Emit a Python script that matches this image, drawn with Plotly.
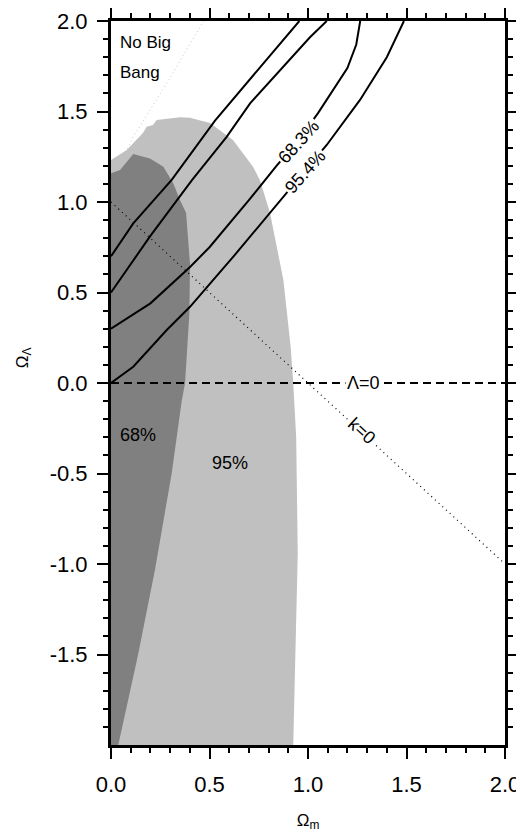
import plotly.graph_objects as go

# ---- data ----
light_x = [0, 0, 0.08, 0.162, 0.181, 0.213, 0.232, 0.35, 0.40, 0.503, 0.619, 0.721, 0.756, 0.807, 0.875, 0.912, 0.925, 0.94, 0.948, 0.934, 0.925]
light_y = [-2, 1.232, 1.287, 1.381, 1.416, 1.425, 1.453, 1.468, 1.466, 1.436, 1.343, 1.195, 1.12, 0.94, 0.569, 0.20, 0.0, -0.3, -0.94, -1.678, -2]

dark_x = [0, 0, 0.046, 0.113, 0.198, 0.266, 0.316, 0.35, 0.381, 0.401, 0.398, 0.376, 0.359, 0.308, 0.223, 0.139, 0.037]
dark_y = [-2, 1.159, 1.177, 1.265, 1.241, 1.195, 1.103, 1.011, 0.94, 0.66, 0.387, 0.0, -0.1, -0.5, -1.033, -1.493, -2]

c95_left_x = [0, 0.113, 0.308, 0.528, 0.956]
c95_left_y = [0.70, 0.882, 1.122, 1.45, 2.0]
c68_left_x = [0, 0.198, 0.41, 0.587, 0.706, 1.01, 1.095]
c68_left_y = [0.50, 0.81, 1.12, 1.36, 1.545, 1.91, 2.0]
c68_right_x = [0, 0.2, 0.4, 0.5, 0.7, 0.84, 0.95, 1.05, 1.2, 1.245, 1.265]
c68_right_y = [0.30, 0.44, 0.64, 0.75, 1.01, 1.20, 1.34, 1.49, 1.74, 1.87, 2.0]
c95_right_x = [0, 0.113, 0.283, 0.401, 0.621, 0.875, 0.985, 1.095, 1.264, 1.4, 1.487]
c95_right_y = [0.0, 0.09, 0.293, 0.421, 0.698, 1.03, 1.17, 1.315, 1.564, 1.80, 2.0]

nobang_x = [0, 0.05, 0.113, 0.283, 0.47]
nobang_y = [1.0, 1.22, 1.36, 1.656, 2.0]

flat_x = [0, 2]          # k = 0 line
flat_y = [1, -1]
lam0_x = [0, 2]          # Lambda = 0 line
lam0_y = [0, 0]

x_ticks = [0, 0.5, 1.0, 1.5, 2.0]
x_labels = ["0.0", "0.5", "1.0", "1.5", "2.0"]
y_ticks = [-1.5, -1.0, -0.5, 0.0, 0.5, 1.0, 1.5, 2.0]
y_labels = ["-1.5", "-1.0", "-0.5", "0.0", "0.5", "1.0", "1.5", "2.0"]

# minor ticks every 0.1
x_minor = [round(0.1 * i, 1) for i in range(1, 20)]
y_minor = [round(-1.9 + 0.1 * i, 1) for i in range(0, 39)]

FONT = "Liberation Sans, Arial, Helvetica, sans-serif"

fig = go.Figure()
fig.add_trace(go.Scatter(x=nobang_x, y=nobang_y, mode="lines",
                         line=dict(color="#c8c8c8", width=1, dash="1px,3px")))
fig.add_trace(go.Scatter(x=light_x, y=light_y, mode="lines", fill="toself",
                         fillcolor="#c0c0c0", line=dict(width=0, color="#c0c0c0")))
fig.add_trace(go.Scatter(x=dark_x, y=dark_y, mode="lines", fill="toself",
                         fillcolor="#808080", line=dict(width=0, color="#808080")))
fig.add_trace(go.Scatter(x=flat_x, y=flat_y, mode="lines",
                         line=dict(color="black", width=1.2, dash="1px,4px")))
fig.add_trace(go.Scatter(x=lam0_x, y=lam0_y, mode="lines",
                         line=dict(color="black", width=2, dash="8px,5px")))
for cx, cy in [(c95_left_x, c95_left_y), (c68_left_x, c68_left_y),
               (c68_right_x, c68_right_y), (c95_right_x, c95_right_y)]:
    fig.add_trace(go.Scatter(x=cx, y=cy, mode="lines", line=dict(color="black", width=2)))
# invisible carrier trace for the top/right tick axes
fig.add_trace(go.Scatter(x=lam0_x, y=lam0_y, xaxis="x2", yaxis="y2", mode="lines",
                         line=dict(width=0), opacity=0, hoverinfo="skip"))

ann_font = dict(family=FONT, size=18, color="black")
annotations = [
    dict(x=0.035, y=1.884, text="No Big", xanchor="left", showarrow=False,
         font=dict(family=FONT, size=17, color="black")),
    dict(x=0.035, y=1.718, text="Bang", xanchor="left", showarrow=False,
         font=dict(family=FONT, size=17, color="black")),
    dict(x=0.139, y=-0.287, text="68%", showarrow=False, font=ann_font),
    dict(x=0.604, y=-0.444, text="95%", showarrow=False, font=ann_font),
    dict(x=0.951, y=1.333, text="68.3%", showarrow=False, textangle=-48, font=ann_font,
         bgcolor="white", borderpad=1),
    dict(x=0.985, y=1.165, text="95.4%", showarrow=False, textangle=-48, font=ann_font,
         bgcolor="white", borderpad=1),
    dict(x=1.28, y=0.0, text="Λ=0", showarrow=False, font=ann_font, bgcolor="white", borderpad=1),
    dict(x=1.273, y=-0.265, text="k=0", showarrow=False, textangle=42.6, font=ann_font,
         bgcolor="white", borderpad=1),
    # y-axis title
    dict(x=-0.255, y=0.535, xref="paper", yref="paper", text="Ω<sub>Λ</sub>", textangle=-90,
         showarrow=False, font=dict(family=FONT, size=17, color="black")),
]


def axis_style(minor_vals, label_gap, labels=True):
    return dict(showline=True, linewidth=3, linecolor="black", mirror="allticks",
                ticks="outside", ticklen=11, tickwidth=2, tickcolor="black",
                showgrid=False, zeroline=False, automargin=False, ticklabelstandoff=label_gap,
                showticklabels=labels,
                tickfont=dict(family=FONT, size=22, color="black"),
                minor=dict(tickmode="array", tickvals=minor_vals, ticks="outside",
                           ticklen=5, tickwidth=1.5, tickcolor="black", showgrid=False))


fig.update_layout(
    width=516, height=830,
    margin=dict(l=103, r=19, t=13, b=93),
    plot_bgcolor="white", paper_bgcolor="white",
    showlegend=False,
    annotations=annotations,
    xaxis=dict(range=[0, 2], tickmode="array", tickvals=x_ticks, ticktext=x_labels,
               title=dict(text="Ω<sub>m</sub>", font=dict(family=FONT, size=17, color="black"),
                          standoff=18),
               **axis_style(x_minor, 7)),
    yaxis=dict(range=[-2, 2], tickmode="array", tickvals=y_ticks, ticktext=y_labels,
               **axis_style(y_minor, 5)),
    xaxis2=dict(range=[0, 2], overlaying="x", side="top", anchor="y2",
                tickmode="array", tickvals=x_ticks, **axis_style(x_minor, 0, labels=False)),
    yaxis2=dict(range=[-2, 2], overlaying="y", side="right", anchor="x2",
                tickmode="array", tickvals=y_ticks, **axis_style(y_minor, 0, labels=False)),
)
fig.write_html("out.html")
